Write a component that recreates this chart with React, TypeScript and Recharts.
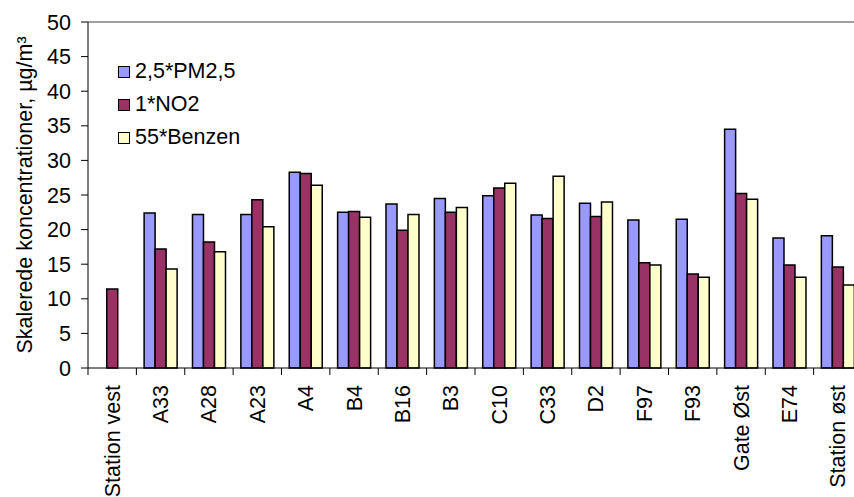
import React from "react";
import { BarChart, Bar, XAxis, YAxis, ReferenceLine, Legend, Label } from "recharts";

const FONT = "'Liberation Sans', Arial, sans-serif";
const FS = 21.5;

const stations = [
  "Station vest", "A33", "A28", "A23", "A4", "B4", "B16", "B3",
  "C10", "C33", "D2", "F97", "F93", "Gate Øst", "E74", "Station øst",
];
const pm25 = [null, 22.4, 22.2, 22.2, 28.3, 22.5, 23.7, 24.5, 24.9, 22.1, 23.8, 21.4, 21.5, 34.5, 18.8, 19.1];
const no2 = [11.4, 17.2, 18.2, 24.3, 28.1, 22.6, 19.9, 22.5, 26.0, 21.6, 21.9, 15.2, 13.6, 25.2, 14.9, 14.6];
const benzen = [null, 14.3, 16.8, 20.4, 26.4, 21.8, 22.2, 23.2, 26.7, 27.7, 24.0, 14.9, 13.1, 24.4, 13.1, 12.0];
const yTicks = [0, 5, 10, 15, 20, 25, 30, 35, 40, 45, 50];

const series = [
  { key: "pm25", name: "2,5*PM2,5", color: "#9999FF" },
  { key: "no2", name: "1*NO2", color: "#993366" },
  { key: "benzen", name: "55*Benzen", color: "#FFFFCC" },
];

const data = stations.map((s, i) => ({
  station: s,
  pm25: pm25[i],
  no2: no2[i],
  benzen: benzen[i],
}));

function CategoryTick(props: any) {
  const { x, y, payload } = props;
  const half = payload && payload.offset ? payload.offset : 24.19;
  return (
    <g>
      <line x1={x - half} x2={x - half} y1={y} y2={y + 7} stroke="#000" strokeWidth={1} />
      <text
        transform={`translate(${x},${y + 17}) rotate(-90)`}
        textAnchor="end"
        dy="0.35em"
        fontSize={FS}
        fontFamily={FONT}
        fill="#000"
      >
        {payload.value}
      </text>
    </g>
  );
}

function LegendBox() {
  return (
    <div style={{ fontFamily: FONT, fontSize: FS, color: "#000" }}>
      {series.map((s) => (
        <div key={s.key} style={{ display: "flex", alignItems: "center", height: 33 }}>
          <span
            style={{
              display: "inline-block",
              width: 10,
              height: 10,
              background: s.color,
              border: "1.5px solid #000",
              marginRight: 5,
            }}
          />
          <span>{s.name}</span>
        </div>
      ))}
    </div>
  );
}

export default function App() {
  return (
    <div style={{ position: "absolute", left: 0, top: 0, width: 854, height: 497, overflow: "hidden", background: "#fff" }}>
      <BarChart
        width={862}
        height={497}
        data={data}
        margin={{ top: 22, right: 0, bottom: 0, left: 0 }}
        barCategoryGap="16%"
        barGap={0}
      >
        <XAxis
          dataKey="station"
          interval={0}
          height={129}
          tickSize={0}
          tickMargin={0}
          tickLine={false}
          axisLine={{ stroke: "#000", strokeWidth: 1 }}
          tick={<CategoryTick />}
        />
        <YAxis
          domain={[0, 50]}
          ticks={yTicks}
          width={88}
          tickSize={7}
          tickMargin={10}
          axisLine={{ stroke: "#000", strokeWidth: 1 }}
          tickLine={{ stroke: "#000", strokeWidth: 1 }}
          tick={{ fill: "#000", fontSize: FS, fontFamily: FONT }}
          interval={0}
        >
          <Label
            value="Skalerede koncentrationer, µg/m³"
            angle={-90}
            position="insideLeft"
            offset={0}
            dx={24}
            dy={0}
            style={{ textAnchor: "middle", fontSize: FS, fontFamily: FONT, fill: "#000" }}
          />
        </YAxis>
        <ReferenceLine y={50} stroke="#808080" strokeWidth={1.5} />
        <Legend
          layout="vertical"
          align="center"
          verticalAlign="middle"
          content={<LegendBox />}
          wrapperStyle={{ left: 118, top: 55, width: "auto", height: "auto" }}
        />
        {series.map((s) => (
          <Bar
            key={s.key}
            dataKey={s.key}
            name={s.name}
            fill={s.color}
            stroke="#000"
            strokeWidth={1.5}
            isAnimationActive={false}
          />
        ))}
      </BarChart>
    </div>
  );
}
